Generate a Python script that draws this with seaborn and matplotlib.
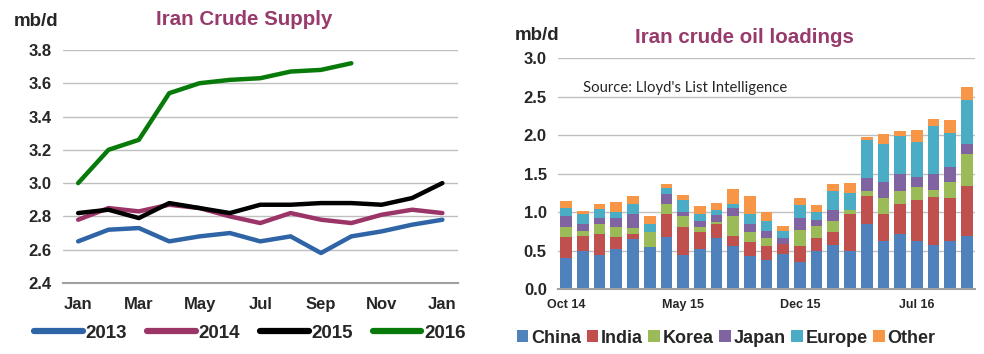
import numpy as np
import pandas as pd
import matplotlib
matplotlib.use("Agg")
import matplotlib.pyplot as plt
from matplotlib.patches import Patch
from matplotlib.lines import Line2D
import seaborn as sns

# ---- left panel data: Iran crude supply (mb/d) ----
months = ["Jan", "Feb", "Mar", "Apr", "May", "Jun", "Jul",
          "Aug", "Sep", "Oct", "Nov", "Dec", "Jan "]
supply_2013 = [2.65, 2.72, 2.73, 2.65, 2.68, 2.70, 2.65, 2.68, 2.58, 2.68, 2.71, 2.75, 2.78]
supply_2014 = [2.78, 2.85, 2.83, 2.87, 2.85, 2.80, 2.76, 2.82, 2.78, 2.76, 2.81, 2.84, 2.82]
supply_2015 = [2.82, 2.84, 2.79, 2.88, 2.85, 2.82, 2.87, 2.87, 2.88, 2.88, 2.87, 2.91, 3.00]
supply_2016 = [3.00, 3.20, 3.26, 3.54, 3.60, 3.62, 3.63, 3.67, 3.68, 3.72]
years = ["2013", "2014", "2015", "2016"]
year_colors = ["#2F64A6", "#9B3467", "#000000", "#087A0A"]
month_ticklabels = ["Jan", "Mar", "May", "Jul", "Sep", "Nov", "Jan"]

# ---- right panel data: Iran crude oil loadings (mb/d) ----
loading_months = ["Oct 14", "Nov 14", "Dec 14", "Jan 15", "Feb 15", "Mar 15", "Apr 15",
                  "May 15", "Jun 15", "Jul 15", "Aug 15", "Sep 15", "Oct 15", "Nov 15",
                  "Dec 15", "Jan 16", "Feb 16", "Mar 16", "Apr 16", "May 16", "Jun 16",
                  "Jul 16", "Aug 16", "Sep 16", "Oct 16"]
china  = [.41, .49, .44, .52, .65, .55, .68, .44, .52, .66, .56, .43, .38, .46, .35, .50, .57, .50, .85, .63, .72, .63, .57, .62, .69]
india  = [.27, .20, .28, .16, .07, .00, .30, .37, .22, .18, .13, .18, .18, .13, .21, .16, .17, .48, .36, .34, .39, .53, .63, .57, .65]
korea  = [.13, .06, .13, .13, .07, .19, .13, .14, .07, .03, .26, .13, .10, .00, .21, .16, .14, .05, .06, .22, .16, .17, .09, .20, .41]
japan  = [.14, .09, .07, .12, .18, .00, .13, .05, .08, .09, .11, .10, .09, .08, .16, .08, .15, .00, .17, .20, .22, .12, .21, .19, .13]
europe = [.10, .13, .12, .07, .13, .10, .07, .16, .09, .07, .04, .13, .14, .09, .16, .10, .24, .22, .50, .50, .50, .46, .62, .45, .57]
other  = [.09, .04, .06, .13, .11, .11, .06, .06, .10, .09, .20, .24, .11, .06, .10, .09, .09, .13, .03, .12, .06, .15, .09, .17, .17]
regions = ["China", "India", "Korea", "Japan", "Europe", "Other"]
region_colors = ["#4F81BD", "#C0504D", "#9BBB59", "#8064A2", "#4BACC6", "#F79646"]
loading_ticks = ["Oct 14", "May 15", "Dec 15", "Jul 16"]

sns.set_theme(style="white")
plt.rcParams["font.family"] = ["Liberation Sans", "DejaVu Sans"]

title_color = "#983A6C"
grid_color = "#BFBFBF"
axis_color = "#A0A0A0"

fig = plt.figure(figsize=(9.84, 3.54), dpi=100)

# ================= left: line chart =================
ax1 = fig.add_axes([0.064, 0.2006, 0.401, 0.6584])
rows = []
for yr, vals in zip(years, [supply_2013, supply_2014, supply_2015, supply_2016]):
    for i, v in enumerate(vals):
        rows.append({"month": i, "mbd": v, "year": yr})
supply_df = pd.DataFrame(rows)
sns.lineplot(data=supply_df, x="month", y="mbd", hue="year", hue_order=years,
             palette=year_colors, linewidth=3.2, ax=ax1, legend=False)
ax1.set_xlim(-0.5, 12.5)
ax1.set_ylim(2.4, 3.8)
yt = np.arange(2.4, 3.81, 0.2)
ax1.set_yticks(yt)
ax1.set_yticklabels([f"{v:.1f}" for v in yt], fontsize=12, fontweight="bold")
ax1.set_xticks(range(0, 13, 2))
ax1.set_xticklabels(month_ticklabels, fontsize=12, fontweight="bold")
ax1.set_xticks(np.arange(-0.5, 12.6, 1), minor=True)
ax1.tick_params(axis="x", which="major", length=0, pad=10)
ax1.tick_params(axis="x", which="minor", length=5, width=1.5, color=axis_color, direction="out")
ax1.tick_params(axis="y", length=0, pad=8)
ax1.set_xlabel("")
ax1.set_ylabel("")
ax1.grid(axis="y", color=grid_color, linewidth=1)
for s in ["top", "right", "left"]:
    ax1.spines[s].set_visible(False)
ax1.spines["bottom"].set_color(axis_color)
ax1.spines["bottom"].set_linewidth(1.5)
fig.text(0.014, 0.94, "mb/d", fontsize=13.5, fontweight="bold", va="center")
fig.text(0.248, 0.944, "Iran Crude Supply", fontsize=14.8, fontweight="bold",
         color=title_color, ha="center", va="center")
line_handles = [Line2D([0], [0], color=c, linewidth=4.5) for c in year_colors]
fig.legend(line_handles, years, loc="center", bbox_to_anchor=(0.254, 0.058), ncol=4,
           frameon=False, handlelength=2.6, handletextpad=0.15, columnspacing=1.05,
           prop={"size": 13.5, "weight": "bold"})

# ================= right: stacked bars =================
ax2 = fig.add_axes([0.567, 0.183, 0.424, 0.653])
layers = np.cumsum(np.array([china, india, korea, japan, europe, other]), axis=0)
for k in range(len(regions) - 1, -1, -1):
    sns.barplot(x=loading_months, y=layers[k], color=region_colors[k], saturation=1,
                width=0.7, ax=ax2, linewidth=0)
ax2.set_xlim(-0.5, len(loading_months) - 0.5)
ax2.set_ylim(0, 3.0)
yt2 = np.arange(0, 3.01, 0.5)
ax2.set_yticks(yt2)
ax2.set_yticklabels([f"{v:.1f}" for v in yt2], fontsize=12, fontweight="bold")
ax2.set_xticks([loading_months.index(m) for m in loading_ticks])
ax2.set_xticklabels(loading_ticks, fontsize=9, fontweight="bold")
ax2.set_xticks(np.arange(-0.5, len(loading_months), 7), minor=True)
ax2.tick_params(axis="x", which="major", length=0, pad=7)
ax2.tick_params(axis="x", which="minor", length=4, width=1.5, color=axis_color, direction="out")
ax2.tick_params(axis="y", length=0, pad=8)
ax2.set_xlabel("")
ax2.set_ylabel("")
ax2.grid(axis="y", color=grid_color, linewidth=1)
ax2.set_axisbelow(True)
for s in ["top", "right", "left"]:
    ax2.spines[s].set_visible(False)
ax2.spines["bottom"].set_color(axis_color)
ax2.spines["bottom"].set_linewidth(1.5)
fig.text(0.523, 0.90, "mb/d", fontsize=13.5, fontweight="bold", va="center")
fig.text(0.757, 0.893, "Iran crude oil loadings", fontsize=14.8, fontweight="bold",
         color=title_color, ha="center", va="center")
ax2.text(0.06, 0.87, "Source: Lloyd's List Intelligence", transform=ax2.transAxes,
         fontsize=10.7, family=["Lato", "DejaVu Sans"], va="center")
patch_handles = [Patch(facecolor=c, edgecolor="none") for c in region_colors]
fig.legend(patch_handles, regions, loc="center", bbox_to_anchor=(0.738, 0.045), ncol=6,
           frameon=False, handlelength=0.65, handleheight=0.65, handletextpad=0.15,
           columnspacing=0.3, prop={"size": 13, "weight": "bold"})

fig.savefig("out.png", dpi=100)
